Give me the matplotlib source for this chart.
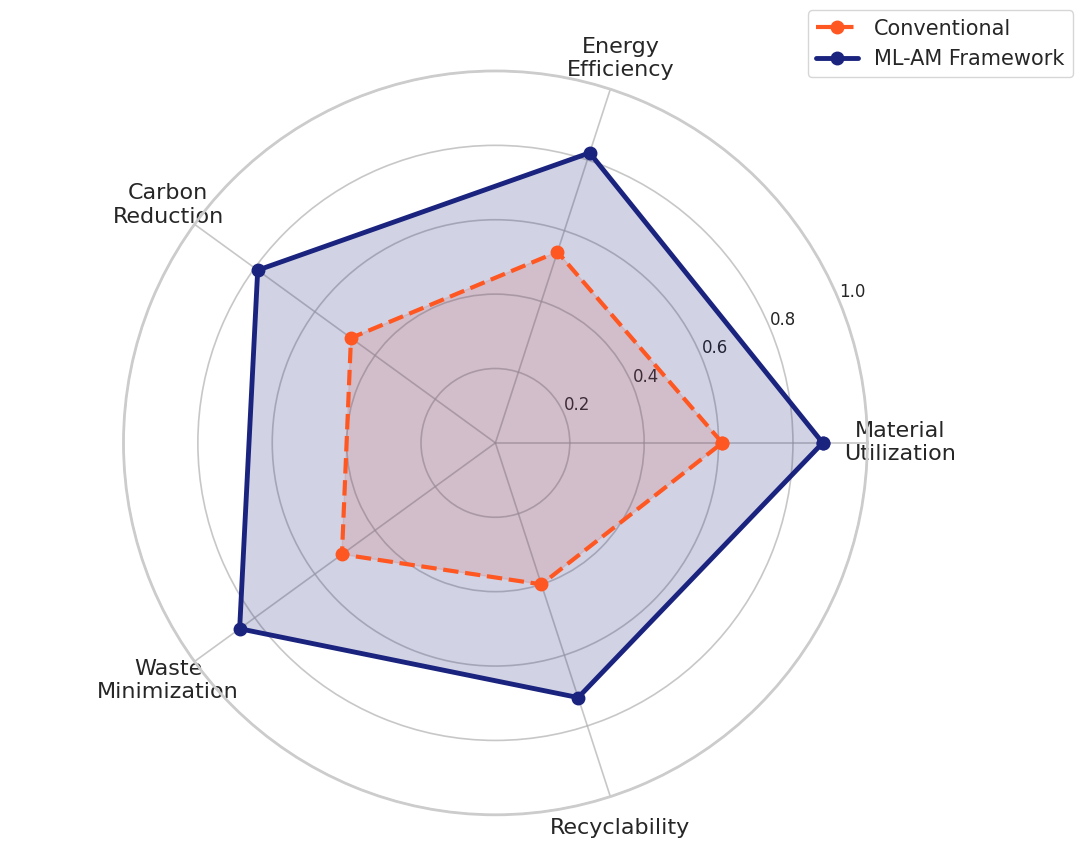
import numpy as np
import matplotlib.pyplot as plt
import seaborn as sns

categories = ['Material\nUtilization', 'Energy\nEfficiency', 'Carbon\nReduction',
              'Waste\nMinimization', 'Recyclability']
conventional = [0.61, 0.54, 0.48, 0.51, 0.40]
ml_am = [0.88, 0.82, 0.79, 0.85, 0.72]
r_ticks = [0.2, 0.4, 0.6, 0.8, 1.0]

sns.set_style('whitegrid')
plt.rcParams['font.family'] = ['DejaVu Sans']

angles = np.linspace(0, 2 * np.pi, len(categories), endpoint=False).tolist()
angles += angles[:1]
conv = conventional + conventional[:1]
ml = ml_am + ml_am[:1]

fig = plt.figure(figsize=(10.9, 8.55), dpi=100)
ax = fig.add_axes([0.113, 0.047, 0.683, 0.87], polar=True)

ax.plot(angles, conv, 'o--', color='#FF5722', linewidth=3, markersize=9, label='Conventional')
ax.fill(angles, conv, color='#FF5722', alpha=0.15)
ax.plot(angles, ml, 'o-', color='#1A237E', linewidth=3.5, markersize=9, label='ML-AM Framework')
ax.fill(angles, ml, color='#1A237E', alpha=0.2)

ax.set_xticks(angles[:-1])
ax.set_xticklabels(categories, fontsize=16)
ax.tick_params(axis='x', pad=13)
ax.set_ylim(0, 1.0)
ax.set_yticks(r_ticks)
ax.set_yticklabels([f'{t:.1f}' for t in r_ticks], fontsize=12)
ax.set_rlabel_position(22.5)
ax.grid(color='#b0b0b0', linewidth=1.2, alpha=0.7)
ax.spines['polar'].set_color('#cccccc')
ax.spines['polar'].set_linewidth(2)

fig.legend(loc='upper right', bbox_to_anchor=(0.994, 1.0), fontsize=15)

plt.savefig('out.png', dpi=100)
